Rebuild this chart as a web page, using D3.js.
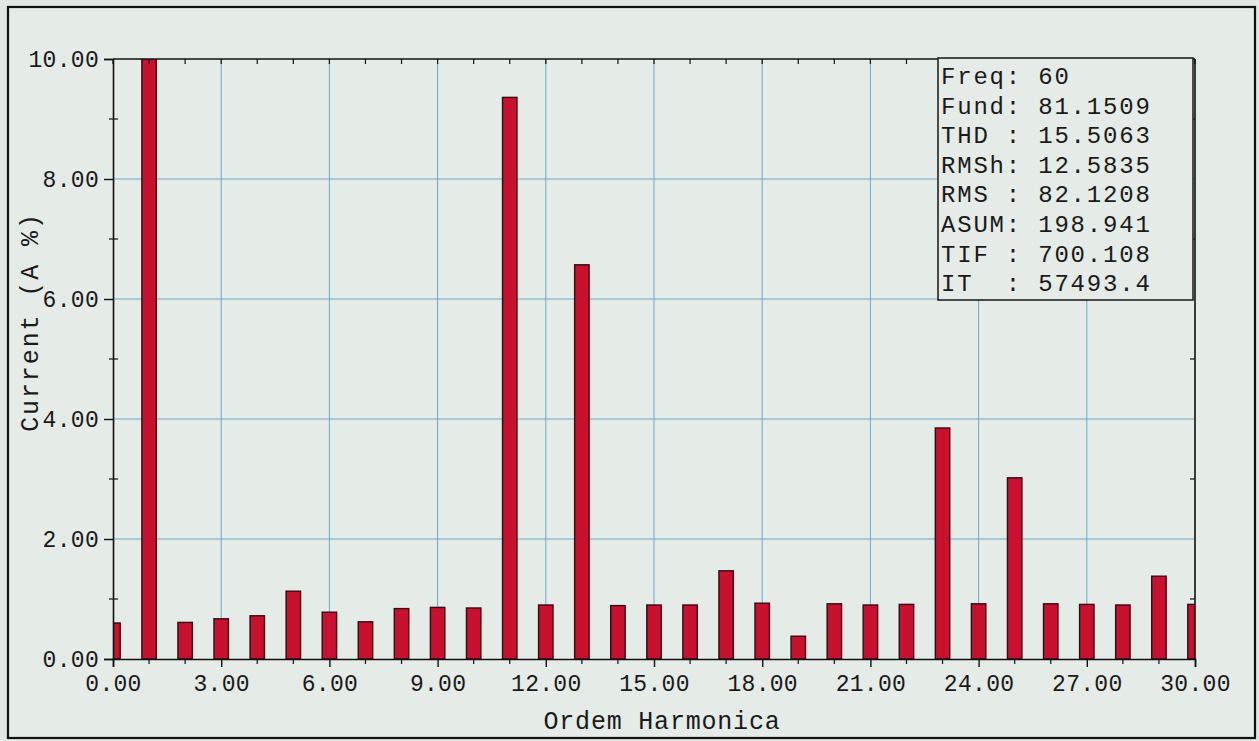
<!DOCTYPE html>
<html>
<head>
<meta charset="utf-8">
<script src="https://cdn.jsdelivr.net/npm/d3@7/dist/d3.min.js"></script>
<style>
  html, body { margin: 0; padding: 0; background: #e1e7e3; }
  svg { display: block; }
  text { font-family: "Liberation Mono", "DejaVu Sans Mono", monospace; fill: #1a1a1a; white-space: pre; }
</style>
</head>
<body>
<svg id="chart" width="1259" height="741"></svg>
<script>
// Harmonic spectrum of the current, in % of the fundamental
const harmonicOrders = d3.range(0, 31);
const currentPct = [
  0.60, 100, 0.61, 0.67, 0.72, 1.13, 0.78, 0.62, 0.84, 0.86,
  0.85, 9.36, 0.90, 6.57, 0.89, 0.90, 0.90, 1.47, 0.93, 0.38,
  0.92, 0.90, 0.91, 3.85, 0.92, 3.02, 0.92, 0.91, 0.90, 1.38,
  0.91
];
const xTickValues = [0, 3, 6, 9, 12, 15, 18, 21, 24, 27, 30];
const yTickValues = [0, 2, 4, 6, 8, 10];
const statNames = ["Freq", "Fund", "THD ", "RMSh", "RMS ", "ASUM", "TIF ", "IT  "];
const statValues = ["60", "81.1509", "15.5063", "12.5835", "82.1208", "198.941", "700.108", "57493.4"];
const xTitle = "Ordem Harmonica";
const yTitle = "Current (A %)";

const svg = d3.select("#chart");
const W = 1259, H = 741;
const plotL = 113, plotR = 1195, plotT = 59, plotB = 659;

const x = d3.scaleLinear().domain([0, 30]).range([plotL, plotR]);
const y = d3.scaleLinear().domain([0, 10]).range([plotB, plotT]);

// background and outer frame
svg.append("rect").attr("width", W).attr("height", H).attr("fill", "#e1e7e3");
svg.append("rect").attr("x", 8).attr("y", 7).attr("width", 1247).attr("height", 731)
  .attr("fill", "#e5ebe7").attr("stroke", "#111").attr("stroke-width", 2.2);

// grid
const gridColor = "#6aa8cc";
svg.append("g").selectAll("line").data(xTickValues.slice(1, -1)).join("line")
  .attr("x1", d => x(d)).attr("x2", d => x(d)).attr("y1", plotT).attr("y2", plotB)
  .attr("stroke", gridColor).attr("stroke-width", 1);
svg.append("g").selectAll("line").data(yTickValues.slice(1, -1)).join("line")
  .attr("x1", plotL).attr("x2", plotR).attr("y1", d => y(d)).attr("y2", d => y(d))
  .attr("stroke", gridColor).attr("stroke-width", 1);

// bars, clipped to the plot area
svg.append("defs").append("clipPath").attr("id", "plotClip")
  .append("rect").attr("x", plotL).attr("y", plotT).attr("width", plotR - plotL).attr("height", plotB - plotT);
const barW = x(0.4) - x(0);
svg.append("g").attr("clip-path", "url(#plotClip)")
  .selectAll("rect").data(harmonicOrders).join("rect")
  .attr("x", d => x(d) - barW / 2)
  .attr("y", d => y(currentPct[d]))
  .attr("width", barW)
  .attr("height", d => y(0) - y(currentPct[d]))
  .attr("fill", "#c8102f")
  .attr("stroke", "#3a0810")
  .attr("stroke-width", 1.4);

// axes
const axisFont = "23px";
const bottomAxis = d3.axisBottom(x).tickValues(xTickValues).tickFormat(d3.format(".2f"))
  .tickSize(8).tickPadding(8);
const gx = svg.append("g").attr("transform", `translate(0,${plotB})`).call(bottomAxis);
gx.select(".domain").attr("stroke", "#111").attr("stroke-width", 1.6);
gx.selectAll(".tick line").attr("stroke", "#111").attr("stroke-width", 1.4);
gx.selectAll("text").style("font-size", axisFont).style("letter-spacing", "0.3px");
// minor ticks on the bottom axis
svg.append("g").selectAll("line").data(harmonicOrders.filter(d => d % 3 !== 0)).join("line")
  .attr("x1", d => x(d)).attr("x2", d => x(d)).attr("y1", plotB).attr("y2", plotB + 5)
  .attr("stroke", "#111").attr("stroke-width", 1.2);

// top axis line with inward ticks at every order
svg.append("line").attr("x1", plotL).attr("x2", plotR).attr("y1", plotT).attr("y2", plotT)
  .attr("stroke", "#111").attr("stroke-width", 1.6);
svg.append("g").selectAll("line").data(harmonicOrders).join("line")
  .attr("x1", d => x(d)).attr("x2", d => x(d)).attr("y1", plotT).attr("y2", plotT + 5)
  .attr("stroke", "#111").attr("stroke-width", 1.2);

const leftAxis = d3.axisLeft(y).tickValues(yTickValues).tickFormat(d3.format(".2f"))
  .tickSize(9).tickPadding(5);
const gy = svg.append("g").attr("transform", `translate(${plotL},0)`).call(leftAxis);
gy.select(".domain").attr("stroke", "#111").attr("stroke-width", 1.6);
gy.selectAll(".tick line").attr("stroke", "#111").attr("stroke-width", 1.4);
gy.selectAll("text").style("font-size", axisFont).style("letter-spacing", "0.3px");
// minor ticks on the left axis (crossing)
svg.append("g").selectAll("line").data([1, 3, 5, 7, 9]).join("line")
  .attr("x1", plotL - 4).attr("x2", plotL + 5).attr("y1", d => y(d)).attr("y2", d => y(d))
  .attr("stroke", "#111").attr("stroke-width", 1.2);

// right axis line with inward minor ticks
svg.append("line").attr("x1", plotR).attr("x2", plotR).attr("y1", plotT).attr("y2", plotB)
  .attr("stroke", "#111").attr("stroke-width", 1.6);
svg.append("g").selectAll("line").data([1, 3, 5, 7, 9]).join("line")
  .attr("x1", plotR - 5).attr("x2", plotR).attr("y1", d => y(d)).attr("y2", d => y(d))
  .attr("stroke", "#111").attr("stroke-width", 1.2);

// axis titles
svg.append("text").attr("x", (plotL + plotR) / 2 + 8).attr("y", 729)
  .attr("text-anchor", "middle").style("font-size", "25px").style("letter-spacing", "0.8px")
  .text(xTitle);
svg.append("text").attr("transform", "translate(38,322) rotate(-90)")
  .attr("text-anchor", "middle").style("font-size", "25px").style("letter-spacing", "1.9px")
  .text(yTitle);

// statistics box
const box = svg.append("g");
box.append("rect").attr("x", 938).attr("y", 58).attr("width", 255).attr("height", 242)
  .attr("fill", "#e5ebe7").attr("stroke", "#222").attr("stroke-width", 1.6);
box.selectAll("text").data(statNames).join("text")
  .attr("x", 941)
  .attr("y", (d, i) => 84 + i * 29.6)
  .style("font-size", "24px").style("letter-spacing", "1.8px")
  .text((d, i) => `${d}: ${statValues[i]}`);
</script>
</body>
</html>
